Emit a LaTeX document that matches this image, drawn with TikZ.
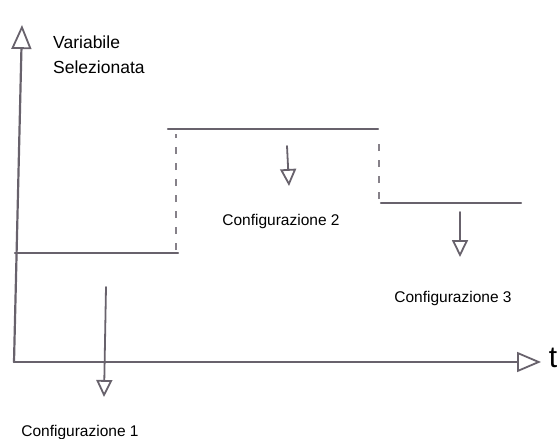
\documentclass[tikz,border=0pt]{standalone}
\usepackage{fontspec}
\setmainfont{Liberation Sans}
\usetikzlibrary{arrows.meta}
\definecolor{pencil}{RGB}{104,98,108}

\begin{document}
\begin{tikzpicture}[x=1pt,y=-1pt,
  stroke/.style={draw=pencil,line width=2.2pt,line cap=round},
  jump/.style={draw=pencil!80,line width=1.4pt,dash pattern=on 7pt off 9pt},
  axistip/.style={-{Triangle[open,length=24pt,width=20pt,line width=1.8pt]}},
  downtip/.style={-{Triangle[open,length=17pt,width=16pt,line width=1.8pt]}},
  label/.style={font=\fontsize{15.5}{18}\selectfont,inner sep=0pt}]
  \useasboundingbox (0,0) rectangle (560,439);
  % axes
  \coordinate (origin) at (14,362);
  \coordinate (ytop) at (22,25);
  \coordinate (xend) at (541,362);
  \draw[stroke,axistip] (origin) -- (ytop);
  \draw[stroke,axistip] (origin) -- (xend);
  \node[font=\fontsize{30}{30}\selectfont,inner sep=0pt] (tlab) at (553,358) {t};
  \node[font=\fontsize{17.5}{25}\selectfont,align=left,anchor=north west,inner sep=0pt] (ylab) at (53,36) {Variabile\\Selezionata};
  % levels of the selected variable
  \coordinate (l1a) at (15,253);  \coordinate (l1b) at (178,253);
  \coordinate (l2a) at (168,129); \coordinate (l2b) at (378,129);
  \coordinate (l3a) at (381,203); \coordinate (l3b) at (521,203);
  \draw[stroke] (l1a) -- (l1b);
  \draw[stroke] (l2a) -- (l2b);
  \draw[stroke] (l3a) -- (l3b);
  \draw[jump] (176,250) -- (176,134);
  \draw[jump] (379,199) -- (379,136);
  % configurations
  \node[label] (conf1) at (80,432) {Configurazione 1};
  \node[label] (conf2) at (281,221) {Configurazione 2};
  \node[label] (conf3) at (453,298) {Configurazione 3};
  \coordinate (a1) at (106,287); \coordinate (a1e) at (104,397);
  \coordinate (a2) at (287,146); \coordinate (a2e) at (289,186);
  \coordinate (a3) at (460,212); \coordinate (a3e) at (460,257);
  \draw[stroke,line width=1.8pt,downtip] (a1) -- (a1e);
  \draw[stroke,line width=1.8pt,downtip] (a2) -- (a2e);
  \draw[stroke,line width=1.8pt,downtip] (a3) -- (a3e);
\end{tikzpicture}
\end{document}
